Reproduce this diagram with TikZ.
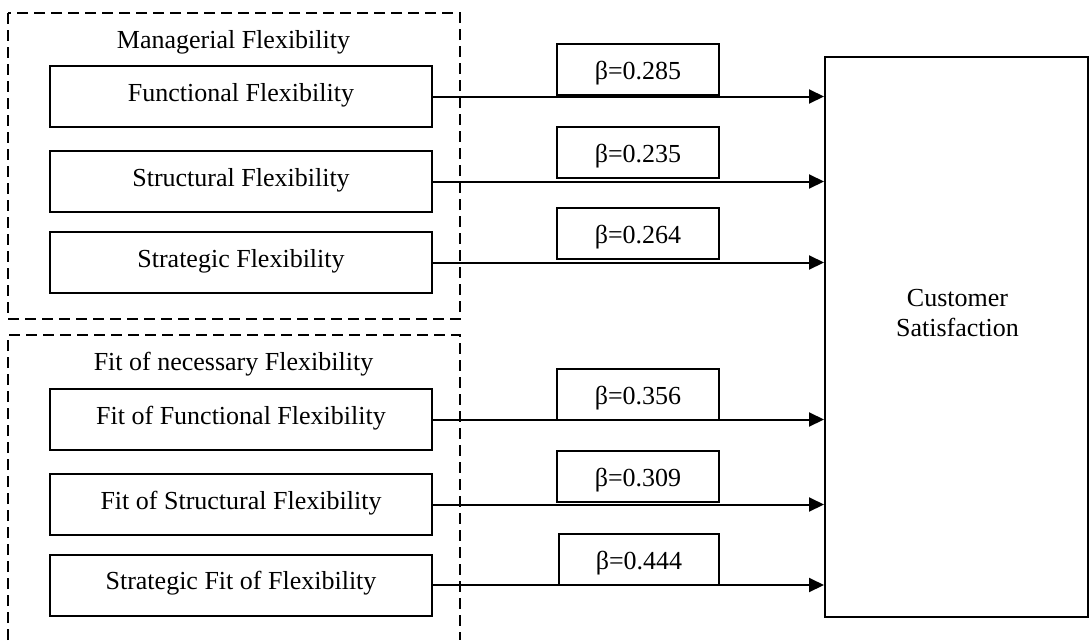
\documentclass[tikz,border=0pt]{standalone}
\usepackage{fontspec}
\setmainfont{Liberation Serif}
\usetikzlibrary{arrows.meta}
\begin{document}
\begin{tikzpicture}[x=1pt,y=-1pt,
  every node/.style={font=\fontsize{26}{30}\selectfont},
  factor/.style={draw, line width=2pt, minimum width=382pt, minimum height=61pt, inner sep=0pt, text height=15pt, text depth=6pt},
  coef/.style={draw, line width=2pt, minimum width=162pt, minimum height=51pt, inner sep=0pt, text height=20pt, text depth=0pt},
  group/.style={draw, line width=1.8pt, dash pattern=on 11pt off 6pt},
  link/.style={line width=2pt, -{Triangle[length=15pt,width=14pt]}},
  outcome/.style={draw, line width=2pt, minimum width=263pt, minimum height=560pt, inner sep=0pt}
  ]
\useasboundingbox (0,0) rectangle (1089,640);

% groups
\draw[group] (8,13) rectangle (460,319);
\draw[group] (8,640) -- (8,335) -- (460,335) -- (460,640);
\node[anchor=base] (t1) at (233.5,48) {Managerial Flexibility};
\node[anchor=base] (t2) at (233.5,370) {Fit of necessary Flexibility};

% factors
\node[factor] (ff)  at (241,96.5)  {Functional Flexibility};
\node[factor] (sf)  at (241,181.5) {Structural Flexibility};
\node[factor] (stf) at (241,262.5) {Strategic Flexibility};
\node[factor] (fff) at (241,419.5) {Fit of Functional Flexibility};
\node[factor] (fsf) at (241,504.5) {Fit of Structural Flexibility};
\node[factor] (sff) at (241,585)   {Strategic Fit of Flexibility};

% outcome
\node[outcome] (cs) at (956.5,337) {};
\node[align=center] (cslabel) at (957.5,313) {Customer\\Satisfaction};

% links
\foreach \n in {ff,sf,stf,fff,fsf,sff}
  \draw[link] (\n.east) -- (\n.east -| cs.west);

% coefficients
\node[coef] (b1) at (638,69.5)  {β=0.285};
\node[coef] (b2) at (638,152.5) {β=0.235};
\node[coef] (b3) at (638,233.5) {β=0.264};
\node[coef] (b4) at (638,394)   {β=0.356};
\node[coef] (b5) at (638,476)   {β=0.309};
\node[coef, minimum width=160pt] (b6) at (639,559.5) {β=0.444};
\end{tikzpicture}
\end{document}
